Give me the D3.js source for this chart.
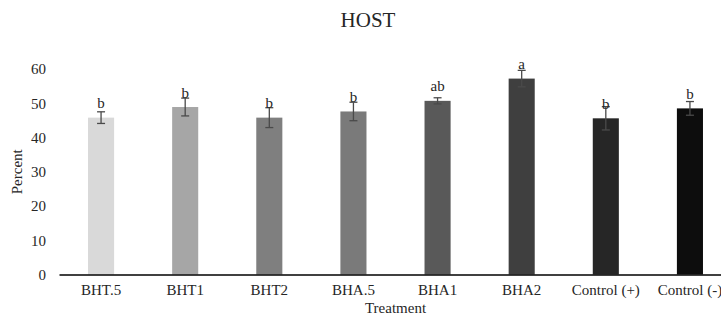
<!DOCTYPE html>
<html>
<head>
<meta charset="utf-8">
<script src="https://cdn.jsdelivr.net/npm/d3@7"></script>
<style>
  body { margin: 0; background: #fff; }
  text { font-family: "Liberation Serif", "Times New Roman", serif; fill: #262626; }
</style>
</head>
<body>
<div id="chart"></div>
<script>
// data
const treatments = ["BHT.5", "BHT1", "BHT2", "BHA.5", "BHA1", "BHA2", "Control (+)", "Control (-)"];
const percent = [45.8, 48.9, 45.8, 47.6, 50.7, 57.2, 45.6, 48.5];
const errors = [1.7, 2.6, 2.9, 2.7, 0.9, 2.4, 3.4, 2.0];
const letters = ["b", "b", "b", "b", "ab", "a", "b", "b"];
const barColors = ["#d9d9d9", "#a6a6a6", "#7f7f7f", "#7a7a7a", "#595959", "#3f3f3f", "#262626", "#0d0d0d"];
const yTicks = [0, 10, 20, 30, 40, 50, 60];

const width = 721, height = 317;
const margin = { top: 69, left: 59, right: 732, bottom: 274.5 };

const svg = d3.select("#chart")
  .append("svg")
  .attr("width", width)
  .attr("height", height);

const x = d3.scaleBand()
  .domain(treatments)
  .range([margin.left, margin.right])
  .paddingInner(0.69)
  .paddingOuter(0.345);

const y = d3.scaleLinear()
  .domain([0, 60])
  .range([margin.bottom, margin.top]);

// y axis labels (no axis line)
const yAxis = svg.append("g")
  .attr("transform", `translate(${margin.left}, 0)`)
  .call(d3.axisLeft(y).tickValues(yTicks).tickSize(0).tickPadding(13));
yAxis.select(".domain").remove();
yAxis.selectAll("text")
  .style("font-size", "15px")
  .style("font-family", "'Liberation Serif', serif")
  .attr("fill", "#262626");

// bars
svg.selectAll(".bar")
  .data(treatments)
  .join("rect")
  .attr("class", "bar")
  .attr("x", d => x(d))
  .attr("width", x.bandwidth())
  .attr("y", (d, i) => y(percent[i]))
  .attr("height", (d, i) => y(0) - y(percent[i]))
  .attr("fill", (d, i) => barColors[i]);

// error bars
const eb = svg.selectAll(".err")
  .data(treatments)
  .join("g")
  .attr("class", "err")
  .attr("stroke", "#4a4a4a")
  .attr("stroke-width", 1.3);
eb.append("line")
  .attr("x1", d => x(d) + x.bandwidth() / 2)
  .attr("x2", d => x(d) + x.bandwidth() / 2)
  .attr("y1", (d, i) => y(percent[i] + errors[i]))
  .attr("y2", (d, i) => y(percent[i] - errors[i]));
eb.append("line")
  .attr("x1", d => x(d) + x.bandwidth() / 2 - 4)
  .attr("x2", d => x(d) + x.bandwidth() / 2 + 4)
  .attr("y1", (d, i) => y(percent[i] + errors[i]))
  .attr("y2", (d, i) => y(percent[i] + errors[i]));
eb.append("line")
  .attr("x1", d => x(d) + x.bandwidth() / 2 - 4)
  .attr("x2", d => x(d) + x.bandwidth() / 2 + 4)
  .attr("y1", (d, i) => y(percent[i] - errors[i]))
  .attr("y2", (d, i) => y(percent[i] - errors[i]));

// significance letters
svg.selectAll(".letter")
  .data(treatments)
  .join("text")
  .attr("class", "letter")
  .attr("x", d => x(d) + x.bandwidth() / 2)
  .attr("y", (d, i) => y(percent[i]) - 9.5)
  .attr("text-anchor", "middle")
  .style("font-size", "15px")
  .text((d, i) => letters[i]);

// x axis
const xAxis = svg.append("g")
  .attr("transform", `translate(0, ${margin.bottom})`)
  .call(d3.axisBottom(x).tickSize(0).tickPadding(10));
xAxis.select(".domain").attr("stroke", "#000").attr("stroke-width", 1.5);
xAxis.selectAll("text")
  .style("font-size", "15px")
  .style("font-family", "'Liberation Serif', serif")
  .attr("fill", "#262626");

// titles
svg.append("text")
  .attr("x", 368)
  .attr("y", 27)
  .attr("text-anchor", "middle")
  .style("font-size", "21px")
  .text("HOST");

svg.append("text")
  .attr("x", (margin.left + margin.right) / 2)
  .attr("y", 313)
  .attr("text-anchor", "middle")
  .style("font-size", "15px")
  .text("Treatment");

svg.append("text")
  .attr("transform", "rotate(-90)")
  .attr("x", -(margin.top + margin.bottom) / 2)
  .attr("y", 22)
  .attr("text-anchor", "middle")
  .style("font-size", "15px")
  .text("Percent");
</script>
</body>
</html>
